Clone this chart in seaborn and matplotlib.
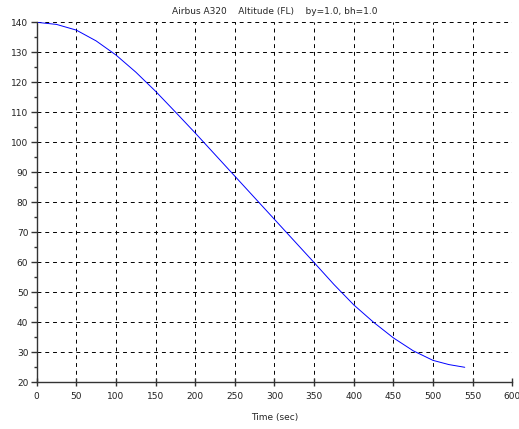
import matplotlib
matplotlib.use("Agg")
import matplotlib.pyplot as plt
from matplotlib.ticker import MultipleLocator
import pandas as pd
import seaborn as sns

# Descent profile of an Airbus A320: altitude (flight level) against time
time_sec = [0, 25, 50, 75, 100, 125, 150, 175, 200, 225, 250, 275, 300,
            325, 350, 375, 400, 425, 450, 475, 500, 520, 540]
altitude_fl = [140.0, 139.3, 137.4, 133.8, 129.1, 123.4, 117.0, 110.1, 103.1,
               95.9, 88.7, 81.5, 74.3, 67.1, 59.9, 52.6, 45.8, 40.0, 34.8,
               30.5, 27.3, 25.9, 25.0]

title_text = "Airbus A320    Altitude (FL)    by=1.0, bh=1.0"
x_label = "Time (sec)"
x_ticks = list(range(0, 601, 50))
y_ticks = list(range(20, 141, 10))

sns.set_style("white")
plt.rcParams["font.family"] = ["DejaVu Sans"]

df = pd.DataFrame({"t": time_sec, "alt": altitude_fl})

fig = plt.figure(figsize=(5.19, 4.29), dpi=100)
ax = fig.add_axes([0.0707, 0.1089, 0.9871 - 0.0707, 0.948 - 0.1089])

sns.lineplot(data=df, x="t", y="alt", ax=ax, color="blue", linewidth=0.7)

ax.set_xlim(0, 600)
ax.set_ylim(20, 140)
ax.set_xticks(x_ticks)
ax.set_yticks(y_ticks)
ax.yaxis.set_minor_locator(MultipleLocator(5))

ax.grid(True, which="major", color="black", linestyle=(0, (4, 4)), linewidth=0.7)
ax.set_axisbelow(True)

for side in ("top", "right"):
    ax.spines[side].set_visible(False)
for side in ("left", "bottom"):
    ax.spines[side].set_color("#333333")
    ax.spines[side].set_linewidth(1.0)

ax.tick_params(axis="x", which="major", bottom=True, direction="inout",
               length=5.5, width=1.0, color="#333333", labelsize=6.5, pad=4,
               labelcolor="#222222")
ax.tick_params(axis="y", which="major", left=True, direction="out",
               length=4.5, width=1.0, color="#333333", labelsize=6.5, pad=1.5,
               labelcolor="#222222")
ax.tick_params(axis="y", which="minor", left=True, direction="out",
               length=2.5, width=1.0, color="#333333")

ax.set_xlabel(x_label, fontsize=6.5, labelpad=9)
ax.set_ylabel("")
ax.set_title(title_text, fontsize=6.5, pad=6)

fig.savefig("out.png", dpi=100)
